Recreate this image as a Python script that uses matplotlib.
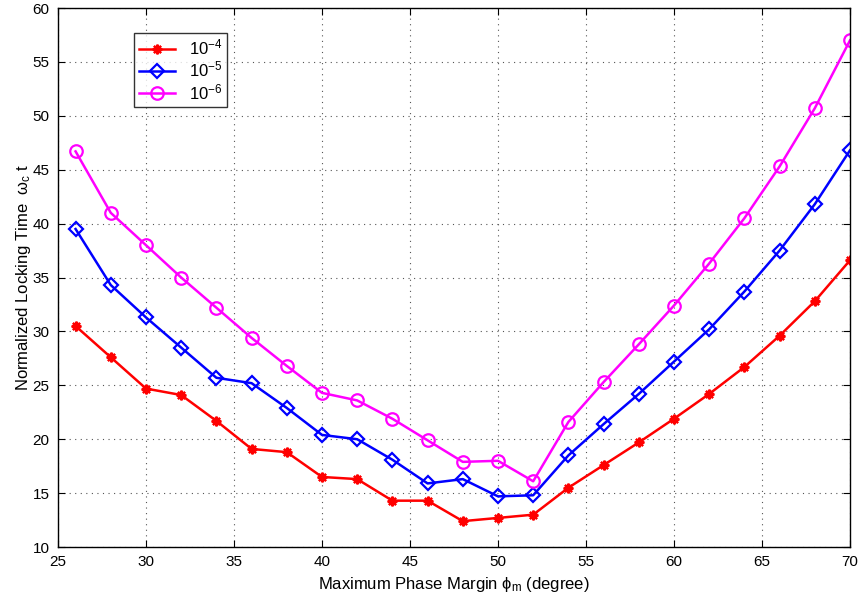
import matplotlib
matplotlib.use("Agg")
import matplotlib.pyplot as plt

plt.rcParams["font.family"] = ["Liberation Sans", "DejaVu Sans"]
plt.rcParams["mathtext.fontset"] = "custom"
plt.rcParams["mathtext.rm"] = "Liberation Sans"
plt.rcParams["mathtext.it"] = "Liberation Sans"

# phase margin (degree)
phase_margin = [26, 28, 30, 32, 34, 36, 38, 40, 42, 44, 46, 48,
                50, 52, 54, 56, 58, 60, 62, 64, 66, 68, 70]

# normalized locking time for each tolerance
lock_1e4 = [30.5, 27.6, 24.7, 24.1, 21.7, 19.1, 18.8, 16.5, 16.3, 14.3, 14.3, 12.4,
            12.7, 13.0, 15.5, 17.6, 19.7, 21.9, 24.2, 26.7, 29.6, 32.8, 36.6]
lock_1e5 = [39.5, 34.3, 31.3, 28.5, 25.7, 25.2, 22.9, 20.4, 20.0, 18.1, 15.9, 16.3,
            14.7, 14.8, 18.5, 21.4, 24.2, 27.2, 30.2, 33.7, 37.5, 41.8, 46.8]
lock_1e6 = [46.7, 41.0, 38.0, 35.0, 32.2, 29.4, 26.8, 24.3, 23.6, 21.9, 19.9, 17.9,
            18.0, 16.1, 21.6, 25.3, 28.8, 32.4, 36.3, 40.5, 45.3, 50.7, 57.0]

labels = [r"$10^{-4}$", r"$10^{-5}$", r"$10^{-6}$"]

fig = plt.figure(figsize=(8.59, 6.07), dpi=100)
ax = fig.add_axes([0.0675, 0.0988, 0.922, 0.888])

ax.plot(phase_margin, lock_1e4, color="#ff0000", lw=1.8, marker=(8, 2, 0),
        ms=7, mew=1.6, label=labels[0])
ax.plot(phase_margin, lock_1e5, color="#0000ff", lw=1.8, marker="D", ms=7,
        mfc="none", mew=1.6, label=labels[1])
ax.plot(phase_margin, lock_1e6, color="#ff00ff", lw=1.8, marker="o", ms=9,
        mfc="none", mew=1.6, label=labels[2])

ax.set_xlim(25, 70)
ax.set_ylim(10, 60)
ax.set_xticks(range(25, 71, 5))
ax.set_yticks(range(10, 61, 5))
ax.tick_params(direction="in", length=5, labelsize=11, top=True, right=True, pad=6)
ax.grid(True, linestyle=(0, (1, 4)), color="#555555", linewidth=0.8)
for sp in ax.spines.values():
    sp.set_linewidth(1.0)

ax.set_xlabel(r"Maximum Phase Margin $\phi_m$ (degree)", fontsize=12, labelpad=4)
ax.set_ylabel(r"Normalized Locking Time  $\omega_c\ t$", fontsize=12, labelpad=0)

leg = ax.legend(loc="upper left", bbox_to_anchor=(0.085, 0.97), fontsize=12,
                frameon=True, fancybox=False, edgecolor="black",
                handlelength=2.2, borderpad=0.3, labelspacing=0.15)
leg.get_frame().set_linewidth(1.0)

fig.savefig("out.png", dpi=100)
